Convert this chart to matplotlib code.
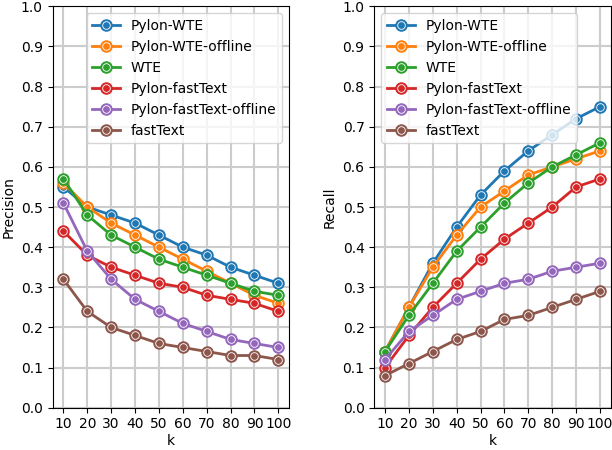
import matplotlib
matplotlib.use('Agg')
import matplotlib.pyplot as plt

k = [10, 20, 30, 40, 50, 60, 70, 80, 90, 100]
names = ['Pylon-WTE', 'Pylon-WTE-offline', 'WTE', 'Pylon-fastText',
         'Pylon-fastText-offline', 'fastText']

precision = {
    'Pylon-WTE': [0.55, 0.50, 0.48, 0.46, 0.43, 0.40, 0.38, 0.35, 0.33, 0.31],
    'Pylon-WTE-offline': [0.56, 0.50, 0.46, 0.43, 0.40, 0.37, 0.34, 0.31, 0.28, 0.26],
    'WTE': [0.57, 0.48, 0.43, 0.40, 0.37, 0.35, 0.33, 0.31, 0.29, 0.28],
    'Pylon-fastText': [0.44, 0.38, 0.35, 0.33, 0.31, 0.30, 0.28, 0.27, 0.26, 0.24],
    'Pylon-fastText-offline': [0.51, 0.39, 0.32, 0.27, 0.24, 0.21, 0.19, 0.17, 0.16, 0.15],
    'fastText': [0.32, 0.24, 0.20, 0.18, 0.16, 0.15, 0.14, 0.13, 0.13, 0.12],
}
recall = {
    'Pylon-WTE': [0.14, 0.25, 0.36, 0.45, 0.53, 0.59, 0.64, 0.68, 0.72, 0.75],
    'Pylon-WTE-offline': [0.14, 0.25, 0.35, 0.43, 0.50, 0.54, 0.58, 0.60, 0.62, 0.64],
    'WTE': [0.14, 0.23, 0.31, 0.39, 0.45, 0.51, 0.56, 0.60, 0.63, 0.66],
    'Pylon-fastText': [0.10, 0.18, 0.25, 0.31, 0.37, 0.42, 0.46, 0.50, 0.55, 0.57],
    'Pylon-fastText-offline': [0.12, 0.19, 0.23, 0.27, 0.29, 0.31, 0.32, 0.34, 0.35, 0.36],
    'fastText': [0.08, 0.11, 0.14, 0.17, 0.19, 0.22, 0.23, 0.25, 0.27, 0.29],
}
colors = ['#1f77b4', '#ff7f0e', '#2ca02c', '#d62728', '#9467bd', '#8c564b']

fig, axes = plt.subplots(1, 2, figsize=(6.12, 4.5), dpi=100)
panels = [(precision, 'Precision', 'upper right'), (recall, 'Recall', 'upper left')]
for ax, (data, ylab, loc) in zip(axes, panels):
    handles = []
    for name, c in zip(names, colors):
        l1, = ax.plot(k, data[name], color=c, lw=2, marker='o', ms=8, label=name)
        l2, = ax.plot(k, data[name], ls='none', marker='o', ms=5.5, mfc=c,
                      mec='white', mew=0.6)
        handles.append((l1, l2))
    ax.set_ylim(0, 1)
    ax.set_yticks([i / 10 for i in range(11)])
    ax.set_xticks(k)
    ax.grid(True, color='#cccccc', lw=1.5)
    ax.set_axisbelow(True)
    ax.set_xlabel('k', labelpad=2)
    ax.set_ylabel(ylab)
    ax.legend(handles, names, loc=loc)

plt.subplots_adjust(left=0.086, right=0.998, bottom=0.094, top=0.986, wspace=0.36)
plt.savefig('out.png')
